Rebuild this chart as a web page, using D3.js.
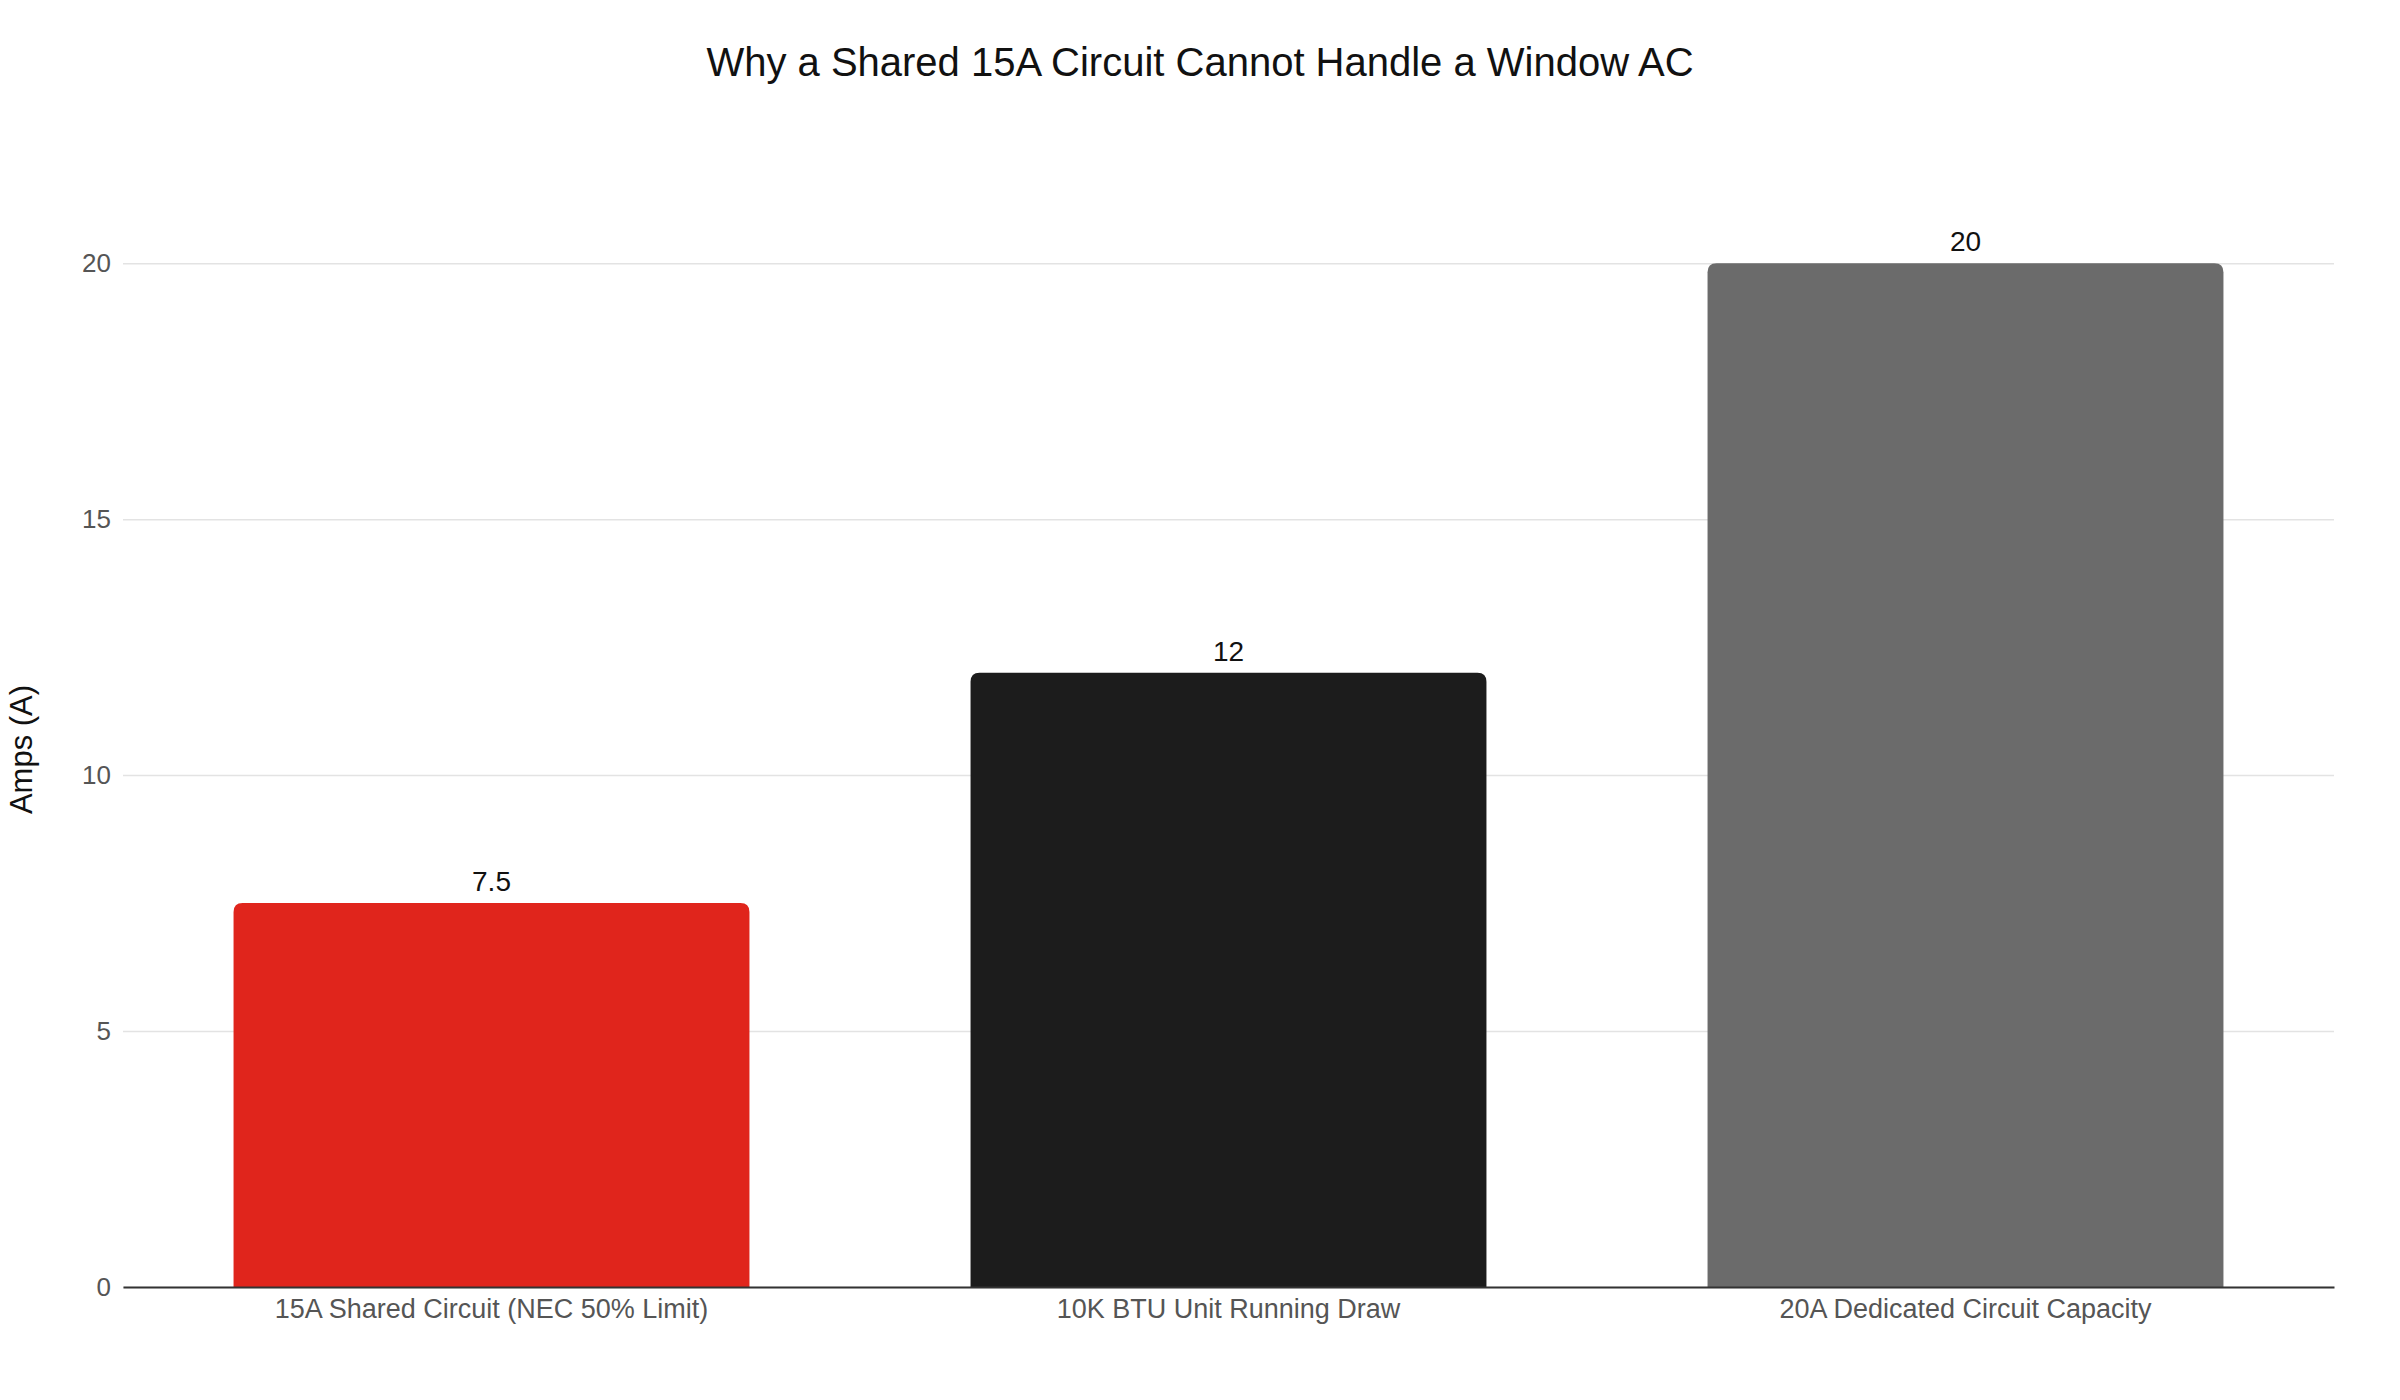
<!DOCTYPE html>
<html><head><meta charset="utf-8">
<script src="https://cdn.jsdelivr.net/npm/d3@7"></script>
<style>body{margin:0;background:#fff}text{font-family:"Liberation Sans",Arial,sans-serif}</style>
</head><body><svg id="c" width="2400" height="1400"></svg>
<script>
const categories = ["15A Shared Circuit (NEC 50% Limit)", "10K BTU Unit Running Draw", "20A Dedicated Circuit Capacity"];
const values = [7.5, 12, 20];
const colors = ["#e0251c", "#1c1c1c", "#6b6b6b"];
const yTicks = [0, 5, 10, 15, 20];

const svg = d3.select("#c");
const m = {l:123, r:2334, t:212, b:1287};
const x = d3.scaleBand().domain(categories).range([m.l, m.r]).paddingInner(0.3).paddingOuter(0.15);
const y = d3.scaleLinear().domain([0, 21]).range([m.b, m.t]);

svg.append("text").attr("x",1200).attr("y",76).attr("text-anchor","middle")
  .attr("font-size",40).attr("fill","#111").text("Why a Shared 15A Circuit Cannot Handle a Window AC");

const ga = svg.append("g").attr("transform",`translate(${m.l},0)`)
  .call(d3.axisLeft(y).tickValues(yTicks).tickSize(-(m.r-m.l)).tickPadding(12));
ga.select(".domain").remove();
ga.selectAll(".tick line").attr("stroke","#e3e3e3").attr("stroke-width",1.5);
ga.selectAll(".tick text").attr("font-size",26).attr("fill","#555");

svg.append("text").attr("transform",`translate(32,${(m.t+m.b)/2+ 0}) rotate(-90)`)
  .attr("text-anchor","middle").attr("font-size",31).attr("fill","#111").text("Amps (A)");

svg.selectAll("path.bar").data(values).join("path").attr("class","bar")
  .attr("fill",(d,i)=>colors[i])
  .attr("d",(d,i)=>{
    const x0=x(categories[i]), w=x.bandwidth(), y0=y(d), y1=y(0), r=9;
    return `M${x0},${y1}V${y0+r}Q${x0},${y0} ${x0+r},${y0}H${x0+w-r}Q${x0+w},${y0} ${x0+w},${y0+r}V${y1}Z`;
  });

svg.selectAll("text.val").data(values).join("text").attr("class","val")
  .attr("x",(d,i)=>x(categories[i])+x.bandwidth()/2).attr("y",d=>y(d)-12)
  .attr("text-anchor","middle").attr("font-size",28).attr("fill","#111").text(d=>d);

const gx = svg.append("g").attr("transform",`translate(0,${m.b})`)
  .call(d3.axisBottom(x).tickSize(0).tickPadding(12));
gx.select(".domain").attr("stroke","#333").attr("stroke-width",2);
gx.selectAll(".tick text").attr("font-size",27).attr("fill","#555");
</script></body></html>
